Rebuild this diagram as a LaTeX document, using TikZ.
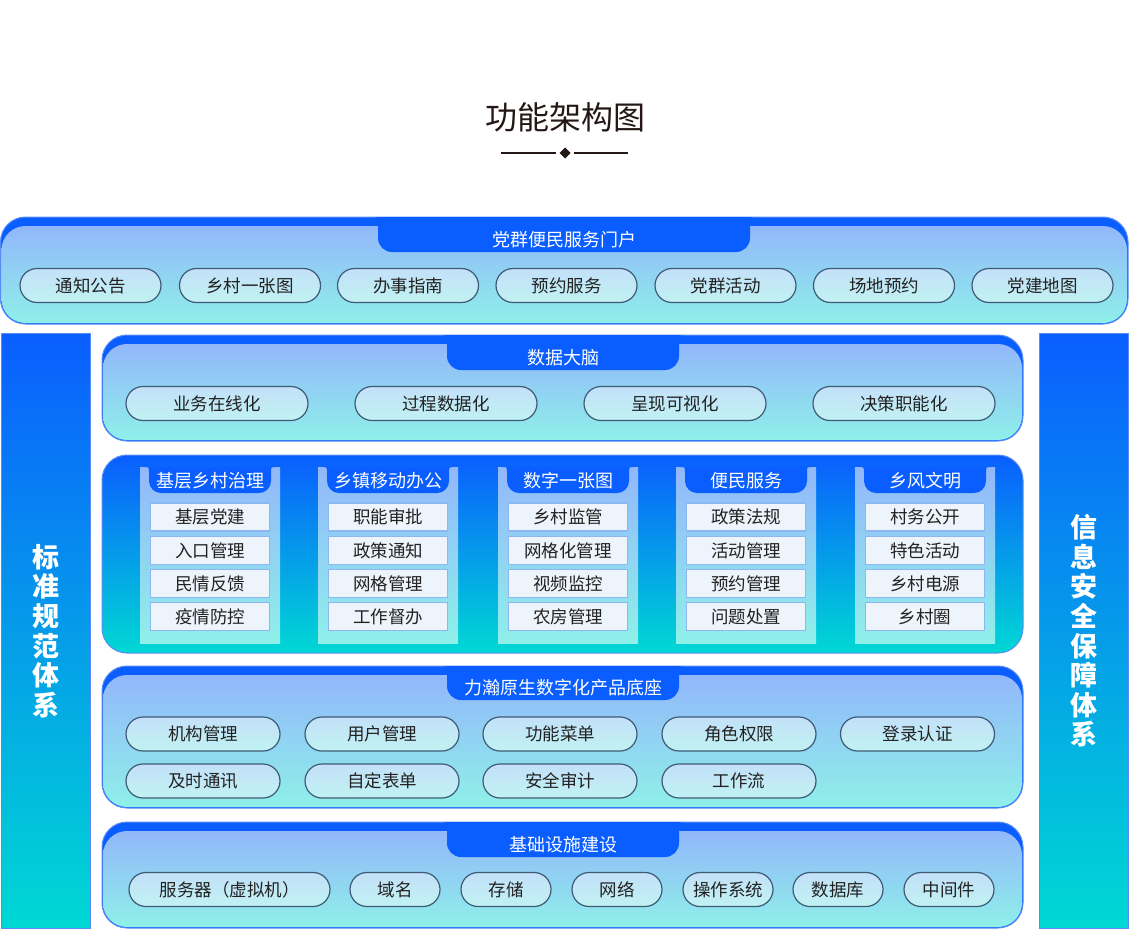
\documentclass[tikz,border=0pt]{standalone}
\usepackage{fontspec}
\setmainfont{Noto Sans CJK SC}
\definecolor{dblue}{HTML}{0A5EFF}
\definecolor{cyanc}{HTML}{00D8D4}
\definecolor{ptop}{HTML}{92B7FB}
\definecolor{pbot}{HTML}{8FF0E9}
\definecolor{pline}{HTML}{5A8CF7}
\definecolor{pilltop}{HTML}{C3E0F9}
\definecolor{pillbot}{HTML}{C0F2F2}
\definecolor{pillline}{HTML}{3E5A77}
\definecolor{itemfill}{HTML}{EEF4FB}
\definecolor{itemline}{HTML}{8DB6F3}
\definecolor{txt}{HTML}{222222}
\definecolor{titlec}{HTML}{231815}
\tikzset{
  pill/.style={draw=pillline, line width=1.2pt, rounded corners=17pt, top color=pilltop, bottom color=pillbot,
     minimum height=34pt, inner sep=0pt, text=txt, font=\fontsize{17.5}{18}\selectfont},
  itembox/.style={draw=itemline, line width=1.4pt, fill=itemfill, minimum width=119pt, minimum height=28pt,
     inner sep=0pt, text=txt, font=\fontsize{17.5}{18}\selectfont},
  tabtext/.style={text=white, inner sep=0pt, font=\fontsize{18}{19}\selectfont},
  sidetext/.style={text=white, align=center, inner sep=0pt, font=\bfseries\fontsize{27}{29.6}\selectfont},
  outline/.style={draw=pline, line width=1pt}
}
\newcommand\lightpanel[4]{%
  \fill[dblue, rounded corners=25pt] (#1,#2) rectangle (#3,#4);
  \shade[top color=ptop, bottom color=pbot, rounded corners=24pt] (#1+1,#2+9) rectangle (#3-1,#4-1);
  \draw[outline, rounded corners=25pt] (#1,#2) rectangle (#3,#4);
}
\newcommand\paneltab[4]{%
  \fill[dblue] (#1-6,#2) .. controls (#1,#2) .. (#1,#2+8) [rounded corners=14pt] -- (#1,#4) -- (#3,#4) [sharp corners] -- (#3,#2+8) .. controls (#3,#2) .. (#3+6,#2) -- cycle;
}
\begin{document}
\begin{tikzpicture}[x=1pt,y=-1pt]
\useasboundingbox (0,0) rectangle (1129,932);
\fill[white] (0,0) rectangle (1129,932);

% title
\node[text=titlec, inner sep=0pt, font=\fontsize{32}{34}\selectfont] (title) at (565,117) {功能架构图};
\coordinate (l1) at (501,153);
\coordinate (l2) at (556,153);
\coordinate (r1) at (574,153);
\coordinate (r2) at (628,153);
\draw[titlec, line width=1.6pt] (l1) -- (l2);
\draw[titlec, line width=1.6pt] (r1) -- (r2);
\fill[titlec] (565,147.5) -- (570.5,153) -- (565,158.5) -- (559.5,153) -- cycle;

% side bars
\shade[top color=dblue, bottom color=cyanc] (1,333) rectangle (90,928);
\draw[outline] (1,333) rectangle (90,928);
\node[sidetext] (lside) at (45.5,631) {标\\准\\规\\范\\体\\系};
\shade[top color=dblue, bottom color=cyanc] (1039,333) rectangle (1128,928);
\draw[outline] (1039,333) rectangle (1128,928);
\node[sidetext] (rside) at (1083.5,631) {信\\息\\安\\全\\保\\障\\体\\系};

% top portal panel
\lightpanel{0.5}{217}{1128}{324}
\paneltab{378}{217}{750}{252}
\node[tabtext] (t1) at (564,240) {党群便民服务门户};
\foreach \x/\t [count=\i] in {90.5/通知公告, 250/乡村一张图, 408/办事指南, 566.5/预约服务, 725.5/党群活动, 884/场地预约, 1042.5/党建地图}
  \node[pill, minimum width=141pt] (a\i) at (\x,285.5) {\t};

% data brain
\lightpanel{102}{335}{1023}{441}
\paneltab{447}{335}{679}{370}
\node[tabtext] (t2) at (563,358) {数据大脑};
\foreach \x/\t [count=\i] in {217/业务在线化, 446/过程数据化, 675/呈现可视化, 904/决策职能化}
  \node[pill, minimum width=182pt] (b\i) at (\x,403.5) {\t};

% middle application panel
\shade[top color=dblue, middle color=dblue!55!cyanc, bottom color=cyanc, rounded corners=25pt] (102,455) rectangle (1023,653);
\draw[outline, rounded corners=25pt] (102,455) rectangle (1023,653);
\newcommand\appcol[7]{%
  \shade[top color=ptop, bottom color=pbot] (#1-70,467) rectangle (#1+70,643);
  \fill[dblue] (#1-66,467) .. controls (#1-61,467) .. (#1-61,473) [rounded corners=12pt] -- (#1-61,493) -- (#1+61,493) [sharp corners] -- (#1+61,473) .. controls (#1+61,467) .. (#1+66,467) -- cycle;
  \node[tabtext] (h#2) at (#1,481) {#3};
  \node[itembox] (c#2a) at (#1,517) {#4};
  \node[itembox] (c#2b) at (#1,550.5) {#5};
  \node[itembox] (c#2c) at (#1,583.5) {#6};
  \node[itembox] (c#2d) at (#1,616.5) {#7};
}
\appcol{210}{1}{基层乡村治理}{基层党建}{入口管理}{民情反馈}{疫情防控}
\appcol{388}{2}{乡镇移动办公}{职能审批}{政策通知}{网格管理}{工作督办}
\appcol{568}{3}{数字一张图}{乡村监管}{网格化管理}{视频监控}{农房管理}
\appcol{746}{4}{便民服务}{政策法规}{活动管理}{预约管理}{问题处置}
\appcol{925}{5}{乡风文明}{村务公开}{特色活动}{乡村电源}{乡村圈}

% base platform
\lightpanel{102}{666}{1023}{808}
\paneltab{447}{666}{679}{700}
\node[tabtext] (t3) at (563,688) {力瀚原生数字化产品底座};
\foreach \x/\t [count=\i] in {203/机构管理, 382/用户管理, 560/功能菜单, 739/角色权限, 917.5/登录认证}
  \node[pill, minimum width=154pt] (d\i) at (\x,734) {\t};
\foreach \x/\t [count=\i] in {203/及时通讯, 382/自定表单, 560/安全审计, 739/工作流}
  \node[pill, minimum width=154pt] (e\i) at (\x,781) {\t};

% infrastructure
\lightpanel{102}{822}{1023}{928}
\paneltab{447}{822}{679}{857}
\node[tabtext] (t4) at (563,845) {基础设施建设};
\node[pill, minimum width=201pt] (f1) at (229.5,889.5) {服务器（虚拟机）};
\foreach \x/\t [count=\i from 2] in {395/域名, 506/存储, 617/网络, 728/操作系统, 838/数据库, 949/中间件}
  \node[pill, minimum width=90pt] (f\i) at (\x,889.5) {\t};
\end{tikzpicture}
\end{document}
